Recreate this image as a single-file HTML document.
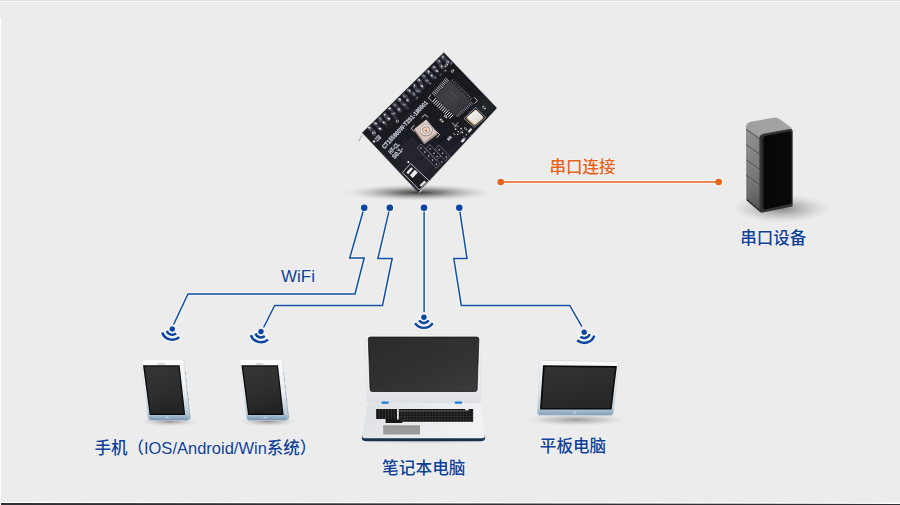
<!DOCTYPE html>
<html lang="zh">
<head>
<meta charset="utf-8">
<title>WiFi 模块连接示意图</title>
<style>
html,body{margin:0;padding:0;background:#ececec;}
body{width:900px;height:505px;overflow:hidden;position:relative;font-family:"Liberation Sans",sans-serif;}
svg{display:block;position:absolute;left:0;top:0;}
.sr{position:absolute;width:1px;height:1px;overflow:hidden;clip:rect(0 0 0 0);white-space:nowrap;font-family:"Liberation Sans",sans-serif;}
</style>
</head>
<body>
<svg width="900" height="505" viewBox="0 0 900 505" role="img" aria-label="WiFi 模块连接示意图">
<defs>
<radialGradient id="pcbShadow" cx="0.5" cy="0.5" r="0.5"><stop offset="0" stop-color="#2e2e2e" stop-opacity="0.92"/><stop offset="0.3" stop-color="#505050" stop-opacity="0.68"/><stop offset="0.65" stop-color="#808080" stop-opacity="0.32"/><stop offset="1" stop-color="#ccc" stop-opacity="0"/></radialGradient>
<linearGradient id="pcbBody" x1="0" y1="0" x2="0.15" y2="1"><stop offset="0" stop-color="#17171c"/><stop offset="0.6" stop-color="#1a1a21"/><stop offset="1" stop-color="#23232d"/></linearGradient>
<linearGradient id="chipBody" x1="0" y1="0" x2="1" y2="1"><stop offset="0" stop-color="#3a3b40"/><stop offset="0.5" stop-color="#3d3e43"/><stop offset="1" stop-color="#303135"/></linearGradient>
<radialGradient id="pad" cx="0.4" cy="0.35" r="0.7"><stop offset="0" stop-color="#f4f6f8"/><stop offset="0.5" stop-color="#b9bfc6"/><stop offset="1" stop-color="#5d636b"/></radialGradient>
<linearGradient id="xtal" x1="0" y1="0" x2="1" y2="1"><stop offset="0" stop-color="#f4f2ee"/><stop offset="0.6" stop-color="#e6e3de"/><stop offset="1" stop-color="#d2cec7"/></linearGradient>
<radialGradient id="ufl" cx="0.5" cy="0.5" r="0.5"><stop offset="0" stop-color="#c79a4a"/><stop offset="0.22" stop-color="#d9b979"/><stop offset="0.3" stop-color="#f2e4da"/><stop offset="0.55" stop-color="#e3cfc6"/><stop offset="0.72" stop-color="#b79c92"/><stop offset="0.85" stop-color="#efe2dc"/><stop offset="1" stop-color="#cdb9b0"/></radialGradient>
<filter id="soft6" x="-5%" y="-5%" width="110%" height="110%"><feGaussianBlur stdDeviation="0.65"/></filter>
<filter id="soft3" x="-5%" y="-5%" width="110%" height="110%"><feGaussianBlur stdDeviation="0.3"/></filter>
<clipPath id="pcbClip"><polygon points="443.8,52.4 496.9,108.0 418.8,191.9 362.4,132.4"/></clipPath>
<radialGradient id="sbShadow" cx="0.5" cy="0.5" r="0.5"><stop offset="0" stop-color="#6a6a6a" stop-opacity="0.8"/><stop offset="0.55" stop-color="#8c8c8c" stop-opacity="0.36"/><stop offset="1" stop-color="#bbb" stop-opacity="0"/></radialGradient>
<linearGradient id="sbSide" x1="0" y1="0" x2="0" y2="1"><stop offset="0" stop-color="#969696"/><stop offset="0.42" stop-color="#848484"/><stop offset="0.72" stop-color="#747474"/><stop offset="0.88" stop-color="#626262"/><stop offset="1" stop-color="#4e4e4e"/></linearGradient>
<linearGradient id="sbSideX" x1="0" y1="0" x2="1" y2="0"><stop offset="0" stop-color="#000" stop-opacity="0.25"/><stop offset="0.1" stop-color="#000" stop-opacity="0"/><stop offset="1" stop-color="#000" stop-opacity="0.06"/></linearGradient>
<linearGradient id="sbTop" x1="0" y1="0" x2="1" y2="0.3"><stop offset="0" stop-color="#9e9e9e"/><stop offset="1" stop-color="#a4a4a4"/></linearGradient>
<linearGradient id="sbFront" x1="0" y1="0" x2="1" y2="0"><stop offset="0" stop-color="#1c1c1c"/><stop offset="0.1" stop-color="#060606"/><stop offset="1" stop-color="#0a0a0a"/></linearGradient>
<linearGradient id="phBody" x1="0" y1="0" x2="0" y2="1"><stop offset="0" stop-color="#fbfbfb"/><stop offset="0.55" stop-color="#e9eef2"/><stop offset="0.89" stop-color="#b4c8d7"/><stop offset="0.93" stop-color="#9db6c9"/><stop offset="1" stop-color="#7694ae"/></linearGradient>
<linearGradient id="phSide" x1="0" y1="0" x2="0" y2="1"><stop offset="0" stop-color="#dbe3ea"/><stop offset="0.55" stop-color="#c0cfdb"/><stop offset="1" stop-color="#84a0b8"/></linearGradient>
<linearGradient id="phScr" x1="0" y1="0" x2="0.25" y2="1"><stop offset="0" stop-color="#353535"/><stop offset="0.6" stop-color="#2e2e2e"/><stop offset="1" stop-color="#242424"/></linearGradient>
<radialGradient id="phShadow" cx="0.5" cy="0.5" r="0.5"><stop offset="0" stop-color="#807b76" stop-opacity="0.8"/><stop offset="0.6" stop-color="#a5a5a5" stop-opacity="0.32"/><stop offset="1" stop-color="#ccc" stop-opacity="0"/></radialGradient>
<linearGradient id="lpLid" x1="0" y1="0" x2="0" y2="1"><stop offset="0" stop-color="#f6f7f8"/><stop offset="0.8" stop-color="#e7e9ed"/><stop offset="1" stop-color="#dcdfe5"/></linearGradient>
<linearGradient id="lpScr" x1="0" y1="0" x2="1" y2="1"><stop offset="0" stop-color="#2a2b2b"/><stop offset="0.6" stop-color="#313232"/><stop offset="1" stop-color="#3b3c3c"/></linearGradient>
<linearGradient id="lpBase" x1="0" y1="0" x2="1" y2="0.25"><stop offset="0" stop-color="#dcdfe3"/><stop offset="0.5" stop-color="#e9eaed"/><stop offset="1" stop-color="#f1f2f4"/></linearGradient>
<radialGradient id="lpShadow" cx="0.5" cy="0.5" r="0.5"><stop offset="0" stop-color="#999" stop-opacity="0.45"/><stop offset="1" stop-color="#ccc" stop-opacity="0"/></radialGradient>
<linearGradient id="tbBody" x1="0" y1="0" x2="0" y2="1"><stop offset="0" stop-color="#fafafa"/><stop offset="0.5" stop-color="#e3e9ee"/><stop offset="0.87" stop-color="#b4c8d7"/><stop offset="1" stop-color="#7f9db6"/></linearGradient>
<linearGradient id="tbScr" x1="0" y1="0" x2="0.4" y2="1"><stop offset="0" stop-color="#343434"/><stop offset="1" stop-color="#272727"/></linearGradient>
<radialGradient id="tbShadow" cx="0.5" cy="0.5" r="0.5"><stop offset="0" stop-color="#808080" stop-opacity="0.75"/><stop offset="0.6" stop-color="#a0a0a0" stop-opacity="0.32"/><stop offset="1" stop-color="#ccc" stop-opacity="0"/></radialGradient>
</defs>
<rect x="0" y="0" width="900" height="505" fill="#ececec"/>
<rect x="0" y="0" width="900" height="1" fill="#dfdfdf"/>
<rect x="0" y="1" width="900" height="1" fill="#f9f9f9"/>
<rect x="0" y="18" width="1" height="487" fill="#ffffff"/>
<polygon points="0,501.7 900,502.7 900,504 0,503" fill="#ffffff"/>
<polygon points="1,503 900,504 900,505 1,505" fill="#303135"/>
<path d="M364.2 207.7 L349.7 258 L364.2 258 L355 294 L188 294 L173.6 324.5" fill="none" stroke="#f8f8f8" stroke-opacity="0.75" stroke-width="3.6" stroke-linejoin="round"/>
<path d="M389.8 207.7 L377.9 258.5 L392.2 258.5 L382.5 305.5 L274.7 305.5 L263.6 327.5" fill="none" stroke="#f8f8f8" stroke-opacity="0.75" stroke-width="3.6" stroke-linejoin="round"/>
<path d="M424.1 207.7 L424.1 312" fill="none" stroke="#f8f8f8" stroke-opacity="0.75" stroke-width="3.6" stroke-linejoin="round"/>
<path d="M459.3 207.7 L467 258.5 L453.8 258.5 L461.3 305.4 L569.7 305.4 L581.9 326.6" fill="none" stroke="#f8f8f8" stroke-opacity="0.75" stroke-width="3.6" stroke-linejoin="round"/>
<path d="M364.2 207.7 L349.7 258 L364.2 258 L355 294 L188 294 L173.6 324.5" fill="none" stroke="#104fa3" stroke-width="1.5" stroke-linejoin="miter"/>
<path d="M389.8 207.7 L377.9 258.5 L392.2 258.5 L382.5 305.5 L274.7 305.5 L263.6 327.5" fill="none" stroke="#104fa3" stroke-width="1.5" stroke-linejoin="miter"/>
<path d="M424.1 207.7 L424.1 312" fill="none" stroke="#104fa3" stroke-width="1.5" stroke-linejoin="miter"/>
<path d="M459.3 207.7 L467 258.5 L453.8 258.5 L461.3 305.4 L569.7 305.4 L581.9 326.6" fill="none" stroke="#104fa3" stroke-width="1.5" stroke-linejoin="miter"/>
<circle cx="364.2" cy="207.7" r="3.3" fill="#0b45a0" stroke="#f8f8f8" stroke-opacity="0.75" stroke-width="2.2" paint-order="stroke"/>
<circle cx="389.8" cy="207.7" r="3.3" fill="#0b45a0" stroke="#f8f8f8" stroke-opacity="0.75" stroke-width="2.2" paint-order="stroke"/>
<circle cx="424.0" cy="207.7" r="3.3" fill="#0b45a0" stroke="#f8f8f8" stroke-opacity="0.75" stroke-width="2.2" paint-order="stroke"/>
<circle cx="459.3" cy="207.7" r="3.3" fill="#0b45a0" stroke="#f8f8f8" stroke-opacity="0.75" stroke-width="2.2" paint-order="stroke"/>
<g transform="translate(172.3 329.0) rotate(15)" fill="none" stroke="#f8f8f8" stroke-opacity="0.75" stroke-width="4.4" stroke-linecap="round"><circle r="2.7" fill="#f8f8f8" stroke-width="2"/><path d="M-4.81 3.24 A5.8 5.8 0 0 0 4.81 3.24"/><path d="M-8.87 5.98 A10.7 10.7 0 0 0 8.87 5.98"/></g><g transform="translate(172.3 329.0) rotate(15)" fill="none" stroke="#0b45a0" stroke-width="2.45"><circle r="2.7" fill="#0b45a0" stroke="none"/><path d="M-4.81 3.24 A5.8 5.8 0 0 0 4.81 3.24"/><path d="M-8.87 5.98 A10.7 10.7 0 0 0 8.87 5.98"/></g>
<g transform="translate(261.0 331.6) rotate(15)" fill="none" stroke="#f8f8f8" stroke-opacity="0.75" stroke-width="4.4" stroke-linecap="round"><circle r="2.7" fill="#f8f8f8" stroke-width="2"/><path d="M-4.81 3.24 A5.8 5.8 0 0 0 4.81 3.24"/><path d="M-8.87 5.98 A10.7 10.7 0 0 0 8.87 5.98"/></g><g transform="translate(261.0 331.6) rotate(15)" fill="none" stroke="#0b45a0" stroke-width="2.45"><circle r="2.7" fill="#0b45a0" stroke="none"/><path d="M-4.81 3.24 A5.8 5.8 0 0 0 4.81 3.24"/><path d="M-8.87 5.98 A10.7 10.7 0 0 0 8.87 5.98"/></g>
<g transform="translate(423.9 317.2) rotate(0)" fill="none" stroke="#f8f8f8" stroke-opacity="0.75" stroke-width="4.4" stroke-linecap="round"><circle r="2.7" fill="#f8f8f8" stroke-width="2"/><path d="M-4.81 3.24 A5.8 5.8 0 0 0 4.81 3.24"/><path d="M-8.87 5.98 A10.7 10.7 0 0 0 8.87 5.98"/></g><g transform="translate(423.9 317.2) rotate(0)" fill="none" stroke="#0b45a0" stroke-width="2.45"><circle r="2.7" fill="#0b45a0" stroke="none"/><path d="M-4.81 3.24 A5.8 5.8 0 0 0 4.81 3.24"/><path d="M-8.87 5.98 A10.7 10.7 0 0 0 8.87 5.98"/></g>
<g transform="translate(584.2 332.2) rotate(-15)" fill="none" stroke="#f8f8f8" stroke-opacity="0.75" stroke-width="4.4" stroke-linecap="round"><circle r="2.7" fill="#f8f8f8" stroke-width="2"/><path d="M-4.81 3.24 A5.8 5.8 0 0 0 4.81 3.24"/><path d="M-8.87 5.98 A10.7 10.7 0 0 0 8.87 5.98"/></g><g transform="translate(584.2 332.2) rotate(-15)" fill="none" stroke="#0b45a0" stroke-width="2.45"><circle r="2.7" fill="#0b45a0" stroke="none"/><path d="M-4.81 3.24 A5.8 5.8 0 0 0 4.81 3.24"/><path d="M-8.87 5.98 A10.7 10.7 0 0 0 8.87 5.98"/></g>
<path d="M500.7 182 L718.7 182" stroke="#f8f8f8" stroke-opacity="0.75" stroke-width="3.8" stroke-linecap="round" fill="none"/>
<circle cx="500.7" cy="182" r="4.4" fill="#f8f8f8" fill-opacity="0.75"/><circle cx="718.7" cy="182" r="4.4" fill="#f8f8f8" fill-opacity="0.75"/>
<path d="M500.7 182 L718.7 182" stroke="#e8631c" stroke-width="1.7" fill="none"/>
<circle cx="500.7" cy="182" r="3.3" fill="#e8631c"/><circle cx="718.7" cy="182" r="3.3" fill="#e8631c"/>
<ellipse cx="418.5" cy="192.6" rx="76" ry="8.6" fill="url(#pcbShadow)"/>
<path d="M363.6 134.6 L360.2 140.6 L358.6 139.6 L361.6 134.2 Z" fill="#c9c9cb"/>
<path d="M360.2 140.6 L358.6 139.6 L358.9 141.6 Z" fill="#9a9a9c"/>
<polygon points="444.1,51.8 497.9,108.1 419.2,193.0 418.2,192.1 496.9,108.0 443.8,52.4" fill="#d9d9dc"/>
<polygon points="444.0,51.4 361.4,132.2 362.4,132.8 443.8,52.4" fill="#e3e3e6"/>
<polygon points="362.1,132.7 418.6,193.1 419.3,192.1 362.7,132.1" fill="#34353c"/>
<polygon points="443.8,52.4 496.9,108.0 418.8,191.9 362.4,132.4" fill="url(#pcbBody)"/>
<g clip-path="url(#pcbClip)"><g filter="url(#soft3)"><polygon points="395.0,150.0 412.0,137.0 436.0,160.0 418.8,180.0" fill="#262731" opacity="0.8"/><polygon points="466.0,112.0 485.0,98.0 495.0,108.0 476.0,128.0" fill="#20212a" opacity="0.9"/><g opacity="0.9"><path d="M400 112 L418 96" stroke="#2c2d37" stroke-width="0.9" fill="none"/><path d="M404 118 L414 109" stroke="#2c2d37" stroke-width="0.9" fill="none"/><path d="M398 132 L410 144" stroke="#2c2d37" stroke-width="0.9" fill="none"/><path d="M440 150 L456 134" stroke="#2c2d37" stroke-width="0.9" fill="none"/><path d="M446 156 L470 132" stroke="#2c2d37" stroke-width="0.9" fill="none"/><path d="M478 96 L488 106" stroke="#2c2d37" stroke-width="0.9" fill="none"/><path d="M482 92 L491 101" stroke="#2c2d37" stroke-width="0.9" fill="none"/><path d="M408 100 L430 80" stroke="#2c2d37" stroke-width="0.9" fill="none"/><path d="M386 128 L396 119" stroke="#2c2d37" stroke-width="0.9" fill="none"/><circle cx="480" cy="100" r="0.8" fill="#34353f"/><circle cx="484" cy="104" r="0.8" fill="#34353f"/><circle cx="488" cy="108" r="0.8" fill="#34353f"/><circle cx="483" cy="96" r="0.8" fill="#34353f"/><circle cx="487" cy="100" r="0.8" fill="#34353f"/><circle cx="491" cy="104" r="0.8" fill="#34353f"/><circle cx="478" cy="106" r="0.8" fill="#34353f"/><circle cx="482" cy="110" r="0.8" fill="#34353f"/><circle cx="486" cy="114" r="0.8" fill="#34353f"/><circle cx="476" cy="112" r="0.8" fill="#34353f"/><circle cx="480" cy="116" r="0.8" fill="#34353f"/><circle cx="402" cy="126" r="0.8" fill="#34353f"/><circle cx="406" cy="130" r="0.8" fill="#34353f"/><circle cx="410" cy="134" r="0.8" fill="#34353f"/><circle cx="399" cy="138" r="0.8" fill="#34353f"/><circle cx="403" cy="142" r="0.8" fill="#34353f"/><circle cx="414" cy="150" r="0.8" fill="#34353f"/><circle cx="410" cy="154" r="0.8" fill="#34353f"/><circle cx="437" cy="146" r="0.8" fill="#34353f"/><circle cx="440" cy="158" r="0.8" fill="#34353f"/><circle cx="447" cy="166" r="0.8" fill="#34353f"/><circle cx="428" cy="170" r="0.8" fill="#34353f"/><circle cx="434" cy="176" r="0.8" fill="#34353f"/></g><g filter="url(#soft6)"><ellipse cx="370.1" cy="128.5" rx="2.8" ry="2.2" transform="rotate(55 370.1 128.5)" fill="#454851" opacity="0.95"/><ellipse cx="369.8" cy="127.8" rx="1.8" ry="1.0" transform="rotate(18 369.8 127.8)" fill="#7c818b" opacity="0.9"/><ellipse cx="369.0" cy="127.7" rx="1.0" ry="0.7" transform="rotate(17 369.0 127.7)" fill="#eef0f3"/><ellipse cx="373.7" cy="133.1" rx="3.1" ry="2.0" transform="rotate(72 373.7 133.1)" fill="#454851" opacity="0.95"/><ellipse cx="374.6" cy="132.4" rx="2.1" ry="1.0" transform="rotate(56 374.6 132.4)" fill="#7c818b" opacity="0.9"/><ellipse cx="372.8" cy="132.6" rx="1.3" ry="0.6" transform="rotate(81 372.8 132.6)" fill="#eef0f3"/><circle cx="372.5" cy="130.8" r="1.4" fill="#383b44" opacity="0.9"/><ellipse cx="375.3" cy="123.6" rx="2.9" ry="2.3" transform="rotate(19 375.3 123.6)" fill="#454851" opacity="0.95"/><ellipse cx="375.1" cy="123.2" rx="1.8" ry="1.0" transform="rotate(15 375.1 123.2)" fill="#7c818b" opacity="0.9"/><ellipse cx="376.0" cy="123.6" rx="0.9" ry="0.7" transform="rotate(22 376.0 123.6)" fill="#eef0f3"/><ellipse cx="379.6" cy="128.5" rx="3.5" ry="1.8" transform="rotate(33 379.6 128.5)" fill="#454851" opacity="0.95"/><ellipse cx="379.4" cy="128.8" rx="1.4" ry="1.0" transform="rotate(32 379.4 128.8)" fill="#7c818b" opacity="0.9"/><ellipse cx="380.0" cy="128.6" rx="1.1" ry="0.8" transform="rotate(14 380.0 128.6)" fill="#eef0f3"/><circle cx="377.5" cy="126.4" r="1.4" fill="#383b44" opacity="0.9"/><ellipse cx="380.2" cy="119.5" rx="3.6" ry="2.1" transform="rotate(66 380.2 119.5)" fill="#454851" opacity="0.95"/><ellipse cx="380.5" cy="118.8" rx="1.9" ry="1.0" transform="rotate(78 380.5 118.8)" fill="#7c818b" opacity="0.9"/><ellipse cx="384.4" cy="123.0" rx="3.2" ry="1.7" transform="rotate(39 384.4 123.0)" fill="#454851" opacity="0.95"/><ellipse cx="384.3" cy="122.5" rx="1.4" ry="1.0" transform="rotate(3 384.3 122.5)" fill="#7c818b" opacity="0.9"/><ellipse cx="383.5" cy="122.4" rx="1.0" ry="0.8" transform="rotate(-3 383.5 122.4)" fill="#eef0f3"/><circle cx="381.8" cy="121.6" r="1.4" fill="#383b44" opacity="0.9"/><ellipse cx="385.5" cy="115.3" rx="3.0" ry="2.1" transform="rotate(67 385.5 115.3)" fill="#454851" opacity="0.95"/><ellipse cx="385.2" cy="115.7" rx="2.2" ry="1.0" transform="rotate(39 385.2 115.7)" fill="#7c818b" opacity="0.9"/><ellipse cx="384.9" cy="114.6" rx="1.0" ry="0.7" transform="rotate(44 384.9 114.6)" fill="#eef0f3"/><ellipse cx="387.9" cy="118.5" rx="3.1" ry="2.4" transform="rotate(38 387.9 118.5)" fill="#454851" opacity="0.95"/><ellipse cx="388.3" cy="118.4" rx="1.9" ry="1.0" transform="rotate(52 388.3 118.4)" fill="#7c818b" opacity="0.9"/><ellipse cx="388.9" cy="118.6" rx="1.3" ry="0.7" transform="rotate(27 388.9 118.6)" fill="#eef0f3"/><circle cx="386.6" cy="115.9" r="1.4" fill="#383b44" opacity="0.9"/><ellipse cx="390.0" cy="109.3" rx="2.9" ry="1.9" transform="rotate(20 390.0 109.3)" fill="#454851" opacity="0.95"/><ellipse cx="389.7" cy="108.6" rx="1.3" ry="1.0" transform="rotate(-8 389.7 108.6)" fill="#7c818b" opacity="0.9"/><ellipse cx="389.7" cy="108.3" rx="1.3" ry="0.7" transform="rotate(-16 389.7 108.3)" fill="#eef0f3"/><ellipse cx="393.2" cy="113.6" rx="2.6" ry="2.3" transform="rotate(37 393.2 113.6)" fill="#454851" opacity="0.95"/><ellipse cx="394.1" cy="113.4" rx="1.7" ry="1.0" transform="rotate(4 394.1 113.4)" fill="#7c818b" opacity="0.9"/><ellipse cx="392.8" cy="113.0" rx="1.3" ry="0.5" transform="rotate(-10 392.8 113.0)" fill="#eef0f3"/><circle cx="392.6" cy="112.0" r="1.4" fill="#383b44" opacity="0.9"/><ellipse cx="395.7" cy="117.5" rx="2.0" ry="1.3" transform="rotate(176 395.7 117.5)" fill="#41444d" opacity="0.85"/><ellipse cx="394.9" cy="104.8" rx="2.9" ry="2.3" transform="rotate(37 394.9 104.8)" fill="#454851" opacity="0.95"/><ellipse cx="395.0" cy="105.1" rx="1.6" ry="1.0" transform="rotate(15 395.0 105.1)" fill="#7c818b" opacity="0.9"/><ellipse cx="399.2" cy="109.6" rx="3.3" ry="2.2" transform="rotate(64 399.2 109.6)" fill="#454851" opacity="0.95"/><ellipse cx="398.6" cy="109.6" rx="1.6" ry="1.0" transform="rotate(26 398.6 109.6)" fill="#7c818b" opacity="0.9"/><ellipse cx="398.7" cy="109.0" rx="1.2" ry="0.8" transform="rotate(59 398.7 109.0)" fill="#eef0f3"/><circle cx="397.4" cy="108.1" r="1.4" fill="#383b44" opacity="0.9"/><ellipse cx="399.3" cy="100.0" rx="2.9" ry="1.9" transform="rotate(29 399.3 100.0)" fill="#454851" opacity="0.95"/><ellipse cx="399.5" cy="100.5" rx="2.1" ry="1.0" transform="rotate(27 399.5 100.5)" fill="#7c818b" opacity="0.9"/><ellipse cx="400.0" cy="99.1" rx="1.2" ry="0.8" transform="rotate(57 400.0 99.1)" fill="#eef0f3"/><ellipse cx="403.7" cy="104.3" rx="3.3" ry="1.9" transform="rotate(26 403.7 104.3)" fill="#454851" opacity="0.95"/><ellipse cx="404.3" cy="104.8" rx="1.7" ry="1.0" transform="rotate(18 404.3 104.8)" fill="#7c818b" opacity="0.9"/><circle cx="401.8" cy="101.7" r="1.4" fill="#383b44" opacity="0.9"/><ellipse cx="407.2" cy="108.0" rx="2.0" ry="1.3" transform="rotate(26 407.2 108.0)" fill="#41444d" opacity="0.85"/><ellipse cx="405.1" cy="95.9" rx="3.2" ry="1.9" transform="rotate(37 405.1 95.9)" fill="#454851" opacity="0.95"/><ellipse cx="404.1" cy="96.5" rx="1.9" ry="1.0" transform="rotate(39 404.1 96.5)" fill="#7c818b" opacity="0.9"/><ellipse cx="408.0" cy="100.1" rx="2.7" ry="1.9" transform="rotate(65 408.0 100.1)" fill="#454851" opacity="0.95"/><ellipse cx="407.6" cy="99.7" rx="1.8" ry="1.0" transform="rotate(46 407.6 99.7)" fill="#7c818b" opacity="0.9"/><ellipse cx="407.1" cy="100.4" rx="0.9" ry="0.6" transform="rotate(73 407.1 100.4)" fill="#eef0f3"/><circle cx="407.0" cy="97.4" r="1.4" fill="#383b44" opacity="0.9"/><ellipse cx="409.2" cy="90.9" rx="2.7" ry="2.1" transform="rotate(47 409.2 90.9)" fill="#454851" opacity="0.95"/><ellipse cx="408.6" cy="90.2" rx="2.0" ry="1.0" transform="rotate(21 408.6 90.2)" fill="#7c818b" opacity="0.9"/><ellipse cx="409.7" cy="90.7" rx="0.9" ry="0.7" transform="rotate(52 409.7 90.7)" fill="#eef0f3"/><ellipse cx="413.4" cy="94.1" rx="2.7" ry="1.9" transform="rotate(49 413.4 94.1)" fill="#454851" opacity="0.95"/><ellipse cx="414.0" cy="94.0" rx="1.8" ry="1.0" transform="rotate(70 414.0 94.0)" fill="#7c818b" opacity="0.9"/><circle cx="411.0" cy="93.0" r="1.4" fill="#383b44" opacity="0.9"/><ellipse cx="417.0" cy="98.1" rx="2.0" ry="1.3" transform="rotate(96 417.0 98.1)" fill="#41444d" opacity="0.85"/><circle cx="417.3" cy="97.8" r="0.55" fill="#b9bdc4"/><ellipse cx="414.8" cy="86.4" rx="3.6" ry="2.0" transform="rotate(68 414.8 86.4)" fill="#454851" opacity="0.95"/><ellipse cx="414.9" cy="87.0" rx="2.1" ry="1.0" transform="rotate(39 414.9 87.0)" fill="#7c818b" opacity="0.9"/><ellipse cx="414.6" cy="85.5" rx="0.9" ry="0.5" transform="rotate(85 414.6 85.5)" fill="#eef0f3"/><ellipse cx="418.3" cy="90.6" rx="3.2" ry="2.2" transform="rotate(25 418.3 90.6)" fill="#454851" opacity="0.95"/><ellipse cx="417.6" cy="91.0" rx="2.2" ry="1.0" transform="rotate(2 417.6 91.0)" fill="#7c818b" opacity="0.9"/><circle cx="415.7" cy="88.0" r="1.4" fill="#383b44" opacity="0.9"/><ellipse cx="419.4" cy="80.8" rx="3.2" ry="2.0" transform="rotate(41 419.4 80.8)" fill="#454851" opacity="0.95"/><ellipse cx="418.8" cy="80.5" rx="1.9" ry="1.0" transform="rotate(3 418.8 80.5)" fill="#7c818b" opacity="0.9"/><ellipse cx="419.3" cy="79.8" rx="0.9" ry="0.7" transform="rotate(43 419.3 79.8)" fill="#eef0f3"/><ellipse cx="422.0" cy="86.0" rx="3.5" ry="1.8" transform="rotate(63 422.0 86.0)" fill="#454851" opacity="0.95"/><ellipse cx="421.5" cy="85.2" rx="2.0" ry="1.0" transform="rotate(44 421.5 85.2)" fill="#7c818b" opacity="0.9"/><ellipse cx="421.8" cy="86.3" rx="1.3" ry="0.6" transform="rotate(28 421.8 86.3)" fill="#eef0f3"/><circle cx="421.6" cy="83.4" r="1.4" fill="#383b44" opacity="0.9"/><ellipse cx="423.1" cy="75.9" rx="3.1" ry="1.9" transform="rotate(57 423.1 75.9)" fill="#454851" opacity="0.95"/><ellipse cx="424.0" cy="76.0" rx="2.0" ry="1.0" transform="rotate(23 424.0 76.0)" fill="#7c818b" opacity="0.9"/><ellipse cx="426.9" cy="81.0" rx="2.8" ry="2.1" transform="rotate(43 426.9 81.0)" fill="#454851" opacity="0.95"/><ellipse cx="427.7" cy="80.6" rx="1.4" ry="1.0" transform="rotate(45 427.7 80.6)" fill="#7c818b" opacity="0.9"/><ellipse cx="425.9" cy="80.2" rx="0.7" ry="0.6" transform="rotate(24 425.9 80.2)" fill="#eef0f3"/><circle cx="425.3" cy="79.0" r="1.4" fill="#383b44" opacity="0.9"/><ellipse cx="430.0" cy="83.5" rx="2.0" ry="1.3" transform="rotate(3 430.0 83.5)" fill="#41444d" opacity="0.85"/><circle cx="430.3" cy="83.2" r="0.55" fill="#b9bdc4"/><ellipse cx="427.8" cy="72.2" rx="2.9" ry="2.1" transform="rotate(49 427.8 72.2)" fill="#454851" opacity="0.95"/><ellipse cx="428.7" cy="71.5" rx="2.0" ry="1.0" transform="rotate(43 428.7 71.5)" fill="#7c818b" opacity="0.9"/><ellipse cx="428.7" cy="71.7" rx="1.1" ry="0.7" transform="rotate(97 428.7 71.7)" fill="#eef0f3"/><ellipse cx="432.2" cy="76.2" rx="3.1" ry="2.0" transform="rotate(58 432.2 76.2)" fill="#454851" opacity="0.95"/><ellipse cx="431.9" cy="75.5" rx="1.4" ry="1.0" transform="rotate(24 431.9 75.5)" fill="#7c818b" opacity="0.9"/><ellipse cx="431.6" cy="75.4" rx="0.8" ry="0.8" transform="rotate(95 431.6 75.4)" fill="#eef0f3"/><circle cx="430.9" cy="73.3" r="1.4" fill="#383b44" opacity="0.9"/><ellipse cx="435.3" cy="77.7" rx="2.0" ry="1.3" transform="rotate(80 435.3 77.7)" fill="#41444d" opacity="0.85"/><circle cx="435.6" cy="77.4" r="0.55" fill="#b9bdc4"/><ellipse cx="434.2" cy="67.8" rx="2.9" ry="2.5" transform="rotate(48 434.2 67.8)" fill="#454851" opacity="0.95"/><ellipse cx="433.8" cy="67.5" rx="1.3" ry="1.0" transform="rotate(39 433.8 67.5)" fill="#7c818b" opacity="0.9"/><ellipse cx="434.2" cy="67.1" rx="1.1" ry="0.5" transform="rotate(25 434.2 67.1)" fill="#eef0f3"/><ellipse cx="436.6" cy="70.7" rx="2.5" ry="1.9" transform="rotate(18 436.6 70.7)" fill="#454851" opacity="0.95"/><ellipse cx="436.1" cy="70.7" rx="1.8" ry="1.0" transform="rotate(38 436.1 70.7)" fill="#7c818b" opacity="0.9"/><ellipse cx="437.1" cy="71.0" rx="1.0" ry="0.6" transform="rotate(66 437.1 71.0)" fill="#eef0f3"/><circle cx="434.7" cy="69.4" r="1.4" fill="#383b44" opacity="0.9"/><ellipse cx="440.7" cy="74.6" rx="2.0" ry="1.3" transform="rotate(113 440.7 74.6)" fill="#41444d" opacity="0.85"/><ellipse cx="438.8" cy="61.7" rx="3.2" ry="2.4" transform="rotate(47 438.8 61.7)" fill="#454851" opacity="0.95"/><ellipse cx="439.4" cy="62.0" rx="1.8" ry="1.0" transform="rotate(78 439.4 62.0)" fill="#7c818b" opacity="0.9"/><ellipse cx="439.3" cy="61.0" rx="0.7" ry="0.5" transform="rotate(33 439.3 61.0)" fill="#eef0f3"/><ellipse cx="441.5" cy="66.6" rx="3.1" ry="2.1" transform="rotate(49 441.5 66.6)" fill="#454851" opacity="0.95"/><ellipse cx="441.9" cy="66.5" rx="1.3" ry="1.0" transform="rotate(73 441.9 66.5)" fill="#7c818b" opacity="0.9"/><ellipse cx="441.5" cy="66.4" rx="1.2" ry="0.5" transform="rotate(73 441.5 66.4)" fill="#eef0f3"/><circle cx="439.7" cy="63.3" r="1.4" fill="#383b44" opacity="0.9"/><ellipse cx="445.2" cy="70.8" rx="2.0" ry="1.3" transform="rotate(176 445.2 70.8)" fill="#41444d" opacity="0.85"/><circle cx="445.5" cy="70.5" r="0.55" fill="#b9bdc4"/><ellipse cx="443.0" cy="57.4" rx="3.5" ry="2.2" transform="rotate(57 443.0 57.4)" fill="#454851" opacity="0.95"/><ellipse cx="443.3" cy="56.8" rx="1.4" ry="1.0" transform="rotate(37 443.3 56.8)" fill="#7c818b" opacity="0.9"/><ellipse cx="442.5" cy="57.2" rx="0.7" ry="0.5" transform="rotate(33 442.5 57.2)" fill="#eef0f3"/><ellipse cx="447.3" cy="61.6" rx="2.8" ry="2.1" transform="rotate(56 447.3 61.6)" fill="#454851" opacity="0.95"/><ellipse cx="447.2" cy="61.5" rx="1.4" ry="1.0" transform="rotate(88 447.2 61.5)" fill="#7c818b" opacity="0.9"/><ellipse cx="448.4" cy="62.0" rx="0.7" ry="0.6" transform="rotate(88 448.4 62.0)" fill="#eef0f3"/><circle cx="446.0" cy="59.3" r="1.4" fill="#383b44" opacity="0.9"/><ellipse cx="451.1" cy="63.3" rx="2.0" ry="1.3" transform="rotate(105 451.1 63.3)" fill="#41444d" opacity="0.85"/><circle cx="451.4" cy="63.0" r="0.55" fill="#b9bdc4"/></g><rect x="-1.1" y="-1.1" width="2.2" height="2.2" transform="translate(374.0 141.4) rotate(-40)" fill="#c9cedb"/><text transform="translate(376.8 141.8) rotate(-40)" x="0.2" y="0" font-family="&quot;Liberation Sans&quot;, sans-serif" font-weight="bold" font-size="6.2" textLength="5.9" lengthAdjust="spacingAndGlyphs" fill="#cdd2de" stroke="#cdd2de" stroke-width="0.28" opacity="0.95">11B</text><text transform="translate(384.3 149.5) rotate(-46.6)" x="0.2" y="0" font-family="&quot;Liberation Sans&quot;, sans-serif" font-weight="bold" font-size="6.2" textLength="63.7" lengthAdjust="spacingAndGlyphs" fill="#cdd2de" stroke="#cdd2de" stroke-width="0.28" opacity="0.95">CT155860W-T2S1-180601</text><text transform="translate(390.8 154.6) rotate(-47)" x="0.3" y="0" font-family="&quot;Liberation Sans&quot;, sans-serif" font-weight="bold" font-size="6.4" textLength="13.1" lengthAdjust="spacingAndGlyphs" fill="#cdd2de" stroke="#cdd2de" stroke-width="0.28" opacity="0.95">HF-CL</text><text transform="translate(394.6 159.3) rotate(-47)" x="0.2" y="0" font-family="&quot;Liberation Sans&quot;, sans-serif" font-weight="bold" font-size="6.4" textLength="13.1" lengthAdjust="spacingAndGlyphs" fill="#cdd2de" stroke="#cdd2de" stroke-width="0.28" opacity="0.95">S0.1-</text><circle cx="397.3" cy="121.2" r="1.2" fill="none" stroke="#dfe2e6" stroke-width="0.7"/><polyline points="431.0,94.6 428.4,97.8 431.6,101.0" fill="none" stroke="#e4e6ea" stroke-width="0.8"/><polyline points="452.0,122.8 455.2,125.6 458.2,122.4" fill="none" stroke="#e4e6ea" stroke-width="0.8"/><polyline points="474.6,97.4 477.4,100.6 474.4,103.8" fill="none" stroke="#e4e6ea" stroke-width="0.8"/><path d="M449.1 81.4 L445.4 78.0" stroke="#d6d8db" stroke-width="0.9" opacity="1"/><path d="M447.9 82.7 L444.2 79.3" stroke="#d6d8db" stroke-width="0.9" opacity="1"/><path d="M446.7 84.1 L443.0 80.7" stroke="#d6d8db" stroke-width="0.9" opacity="1"/><path d="M445.4 85.4 L441.8 82.0" stroke="#d6d8db" stroke-width="0.9" opacity="1"/><path d="M444.2 86.7 L440.5 83.3" stroke="#d6d8db" stroke-width="0.9" opacity="1"/><path d="M443.0 88.0 L439.3 84.7" stroke="#d6d8db" stroke-width="0.9" opacity="1"/><path d="M441.8 89.4 L438.1 86.0" stroke="#d6d8db" stroke-width="0.9" opacity="1"/><path d="M440.6 90.7 L436.9 87.3" stroke="#d6d8db" stroke-width="0.9" opacity="1"/><path d="M439.4 92.0 L435.7 88.6" stroke="#d6d8db" stroke-width="0.9" opacity="1"/><path d="M438.1 93.3 L434.5 90.0" stroke="#d6d8db" stroke-width="0.9" opacity="1"/><path d="M436.9 94.7 L433.2 91.3" stroke="#d6d8db" stroke-width="0.9" opacity="1"/><path d="M435.7 96.0 L432.0 92.6" stroke="#d6d8db" stroke-width="0.9" opacity="1"/><path d="M436.0 98.1 L432.1 102.4" stroke="#f0f1f3" stroke-width="1.0" opacity="1"/><path d="M437.6 99.6 L433.7 103.9" stroke="#f0f1f3" stroke-width="1.0" opacity="1"/><path d="M439.2 101.0 L435.3 105.3" stroke="#f0f1f3" stroke-width="1.0" opacity="1"/><path d="M440.8 102.5 L436.9 106.8" stroke="#f0f1f3" stroke-width="1.0" opacity="1"/><path d="M442.4 104.0 L438.5 108.3" stroke="#f0f1f3" stroke-width="1.0" opacity="1"/><path d="M444.0 105.5 L440.1 109.7" stroke="#f0f1f3" stroke-width="1.0" opacity="1"/><path d="M445.6 106.9 L441.7 111.2" stroke="#f0f1f3" stroke-width="1.0" opacity="1"/><path d="M447.2 108.4 L443.3 112.7" stroke="#f0f1f3" stroke-width="1.0" opacity="1"/><path d="M448.8 109.9 L444.9 114.2" stroke="#f0f1f3" stroke-width="1.0" opacity="1"/><path d="M450.4 111.4 L446.5 115.6" stroke="#f0f1f3" stroke-width="1.0" opacity="1"/><path d="M452.0 112.8 L448.1 117.1" stroke="#f0f1f3" stroke-width="1.0" opacity="1"/><path d="M453.6 114.3 L449.7 118.6" stroke="#f0f1f3" stroke-width="1.0" opacity="1"/><path d="M451.3 81.6 L453.3 79.4" stroke="#a9acb2" stroke-width="0.8" opacity="0.85"/><path d="M453.0 83.3 L455.0 81.1" stroke="#a9acb2" stroke-width="0.8" opacity="0.85"/><path d="M454.7 84.9 L456.7 82.7" stroke="#a9acb2" stroke-width="0.8" opacity="0.85"/><path d="M456.4 86.6 L458.4 84.4" stroke="#a9acb2" stroke-width="0.8" opacity="0.85"/><path d="M458.1 88.2 L460.2 86.0" stroke="#a9acb2" stroke-width="0.8" opacity="0.85"/><path d="M459.8 89.9 L461.9 87.7" stroke="#a9acb2" stroke-width="0.8" opacity="0.85"/><path d="M461.6 91.5 L463.6 89.3" stroke="#a9acb2" stroke-width="0.8" opacity="0.85"/><path d="M463.3 93.2 L465.3 91.0" stroke="#a9acb2" stroke-width="0.8" opacity="0.85"/><path d="M465.0 94.8 L467.0 92.6" stroke="#a9acb2" stroke-width="0.8" opacity="0.85"/><path d="M466.7 96.5 L468.7 94.3" stroke="#a9acb2" stroke-width="0.8" opacity="0.85"/><path d="M468.4 98.1 L470.4 95.9" stroke="#a9acb2" stroke-width="0.8" opacity="0.85"/><path d="M470.1 99.8 L472.1 97.6" stroke="#a9acb2" stroke-width="0.8" opacity="0.85"/><path d="M470.4 101.9 L472.9 104.2" stroke="#bfc2c7" stroke-width="0.85" opacity="0.9"/><path d="M469.1 103.0 L471.5 105.4" stroke="#bfc2c7" stroke-width="0.85" opacity="0.9"/><path d="M467.7 104.2 L470.2 106.5" stroke="#bfc2c7" stroke-width="0.85" opacity="0.9"/><path d="M466.4 105.3 L468.9 107.7" stroke="#bfc2c7" stroke-width="0.85" opacity="0.9"/><path d="M465.1 106.5 L467.5 108.8" stroke="#bfc2c7" stroke-width="0.85" opacity="0.9"/><path d="M463.8 107.6 L466.2 110.0" stroke="#bfc2c7" stroke-width="0.85" opacity="0.9"/><path d="M462.4 108.8 L464.9 111.1" stroke="#bfc2c7" stroke-width="0.85" opacity="0.9"/><path d="M461.1 109.9 L463.6 112.3" stroke="#bfc2c7" stroke-width="0.85" opacity="0.9"/><path d="M459.8 111.1 L462.2 113.4" stroke="#bfc2c7" stroke-width="0.85" opacity="0.9"/><path d="M458.5 112.2 L460.9 114.6" stroke="#bfc2c7" stroke-width="0.85" opacity="0.9"/><path d="M457.1 113.4 L459.6 115.7" stroke="#bfc2c7" stroke-width="0.85" opacity="0.9"/><path d="M455.8 114.5 L458.2 116.9" stroke="#bfc2c7" stroke-width="0.85" opacity="0.9"/><polygon points="450.0,80.4 471.4,101.0 454.8,115.4 434.8,97.0" fill="url(#chipBody)"/><polygon points="450.0,80.4 471.4,101.0 454.8,115.4 434.8,97.0" fill="none" stroke="#26272b" stroke-width="0.6"/><g fill="#4a4b51" opacity="0.8"><polygon points="449.5,89.7 459.0,98.7 457.8,99.9 448.3,90.9"/><polygon points="446.8,93.4 455.2,101.4 454.2,102.4 445.8,94.4"/></g><g transform="translate(0.2 0.9)"><polygon points="475.6,106.6 485.6,116.6 474.0,126.4 463.8,117.6" fill="#1b1b20" stroke="#d8dade" stroke-width="0.6"/><path d="M474.4 109.4 Q475.6 108.4 476.8 109.5 L482.8 115.6 Q483.8 116.8 482.6 117.9 L475.2 124.0 Q474.0 125.0 472.8 123.9 L466.6 118.3 Q465.5 117.2 466.7 116 Z" fill="#bfa061"/><path d="M474.7 109.5 Q475.6 108.8 476.6 109.7 L482.6 115.6 Q483.3 116.5 482.4 117.4 L475.8 123.1 Q474.9 123.8 474.0 123.0 L467.4 117.3 Q466.6 116.5 467.5 115.6 Z" fill="url(#xtal)"/></g><polyline points="421.6,117.6 425.0,114.6 428.2,117.4" fill="none" stroke="#e6e8ec" stroke-width="0.9"/><polyline points="414.6,125.0 411.2,128.2 414.0,131.6" fill="none" stroke="#e6e8ec" stroke-width="0.9"/><polyline points="436.4,131.6 439.6,134.6 436.6,137.8" fill="none" stroke="#e6e8ec" stroke-width="0.9"/><polygon points="426.2,119.6 437.4,132.6 424.0,142.6 414.2,129.0" fill="#d9c7bf"/><polygon points="424.0,142.6 437.4,132.6 437.2,134.4 424.2,144.2" fill="#b9a69d"/><polygon points="414.2,129.0 424.0,142.6 424.2,144.2 414.0,130.6" fill="#a79389"/><ellipse cx="426.3" cy="130.3" rx="6.4" ry="5.9" fill="#8d7a72" transform="rotate(-20 426.3 130.3)"/><ellipse cx="426.2" cy="130.0" rx="5.9" ry="5.4" fill="#eee3de" transform="rotate(-20 426.2 130)"/><ellipse cx="426.2" cy="130.1" rx="4.1" ry="3.7" fill="#a38f87" transform="rotate(-20 426.2 130.1)"/><ellipse cx="426.2" cy="130.2" rx="3.2" ry="2.9" fill="#e6d6cd" transform="rotate(-20 426.2 130.2)"/><circle cx="426.1" cy="130.4" r="1.25" fill="#c48f3c"/><g transform="translate(441.6 120.6) rotate(44)"><rect x="-2.1" y="-1.1" width="4.2" height="2.2" fill="#d5d8dc"/><rect x="-1.05" y="-1.1" width="2.1" height="2.2" fill="#6a5a47"/></g><g transform="translate(445.6 116.6) rotate(44)"><rect x="-1.8" y="-1.0" width="3.6" height="2.0" fill="#d5d8dc"/><rect x="-0.9" y="-1.0" width="1.8" height="2.0" fill="#7b6a52"/></g><g transform="translate(446.2 65.4) rotate(-46)"><rect x="-1.9" y="-1.0" width="3.8" height="2.0" fill="#d5d8dc"/><rect x="-0.95" y="-1.0" width="1.9" height="2.0" fill="#55504a"/></g><g transform="translate(469.6 77.6) rotate(46)"><rect x="-2.2" y="-1.1" width="4.4" height="2.2" fill="#d5d8dc"/><rect x="-1.1" y="-1.1" width="2.2" height="2.2" fill="#4c4a48"/></g><g transform="translate(484.0 107.6) rotate(46)"><rect x="-1.9" y="-1.0" width="3.8" height="2.0" fill="#d5d8dc"/><rect x="-0.95" y="-1.0" width="1.9" height="2.0" fill="#3c3c40"/></g><g transform="translate(452.6 71.0) rotate(-46)"><rect x="-1.7" y="-0.95" width="3.4" height="1.9" fill="#d5d8dc"/><rect x="-0.85" y="-0.95" width="1.7" height="1.9" fill="#504c48"/></g><g transform="translate(459.6 63.8) rotate(40)"><rect x="-1.7" y="-0.95" width="3.4" height="1.9" fill="#d5d8dc"/><rect x="-0.85" y="-0.95" width="1.7" height="1.9" fill="#5a564f"/></g><polygon points="421.0,144.0 440.3,164.2 436.3,168.2 417.0,147.9" fill="none" stroke="#c3c6cd" stroke-width="0.5" opacity="0.75"/><polygon points="430.0,144.5 440.9,155.9 436.5,160.2 425.6,148.9" fill="none" stroke="#c3c6cd" stroke-width="0.5" opacity="0.75"/><polygon points="439.1,145.1 449.9,156.4 445.5,160.7 434.7,149.4" fill="none" stroke="#c3c6cd" stroke-width="0.5" opacity="0.75"/><circle cx="420.9" cy="148.0" r="0.75" fill="#e2e5e9" opacity="0.9"/><circle cx="424.8" cy="152.0" r="0.75" fill="#e2e5e9" opacity="0.9"/><circle cx="428.7" cy="156.1" r="0.75" fill="#e2e5e9" opacity="0.9"/><circle cx="432.5" cy="160.1" r="0.75" fill="#e2e5e9" opacity="0.9"/><circle cx="436.4" cy="164.2" r="0.75" fill="#e2e5e9" opacity="0.9"/><circle cx="430.2" cy="149.1" r="0.75" fill="#e2e5e9" opacity="0.9"/><circle cx="434.0" cy="153.2" r="0.75" fill="#e2e5e9" opacity="0.9"/><circle cx="437.1" cy="156.4" r="0.75" fill="#e2e5e9" opacity="0.9"/><circle cx="439.2" cy="149.7" r="0.75" fill="#e2e5e9" opacity="0.9"/><circle cx="442.7" cy="153.3" r="0.75" fill="#e2e5e9" opacity="0.9"/><circle cx="446.2" cy="157.0" r="0.75" fill="#e2e5e9" opacity="0.9"/><circle cx="441.9" cy="161.9" r="0.75" fill="#e2e5e9" opacity="0.9"/><circle cx="447.8" cy="162.4" r="0.75" fill="#e2e5e9" opacity="0.9"/><circle cx="453.4" cy="158.5" r="0.75" fill="#e2e5e9" opacity="0.9"/><g transform="translate(463.0 140.4) rotate(-46)"><rect x="-2.2" y="-1.15" width="4.4" height="2.3" fill="#d5d8dc"/><rect x="-1.1" y="-1.15" width="2.2" height="2.3" fill="#dfe1e4"/></g><g transform="translate(471.0 136.6) rotate(-46)"><rect x="-1.8" y="-1.0" width="3.6" height="2.0" fill="#d5d8dc"/><rect x="-0.9" y="-1.0" width="1.8" height="2.0" fill="#2a2a2e"/></g><g transform="translate(465.6 128.8) rotate(44)"><rect x="-1.6" y="-0.9" width="3.2" height="1.8" fill="#d5d8dc"/><rect x="-0.8" y="-0.9" width="1.6" height="1.8" fill="#3a3a3e"/></g><g transform="translate(449.4 138.2) rotate(-46)"><rect x="-2.3" y="-1.2" width="4.6" height="2.4" fill="#d5d8dc"/><rect x="-1.15" y="-1.2" width="2.3" height="2.4" fill="#8a8d92"/></g><g transform="translate(470.0 130.4) rotate(-50)"><rect x="-2.4" y="-1.0" width="4.8" height="2.0" fill="#d5d8dc"/><rect x="-1.2" y="-1.0" width="2.4" height="2.0" fill="#c9ccd0"/></g><circle cx="455.6" cy="129.2" r="0.9" fill="#dfe2e6" opacity="0.9"/><circle cx="458.2" cy="131.8" r="0.8" fill="#dfe2e6" opacity="0.9"/><circle cx="461.0" cy="128.6" r="0.9" fill="#dfe2e6" opacity="0.9"/><circle cx="457.6" cy="134.4" r="0.7" fill="#dfe2e6" opacity="0.9"/><circle cx="462.4" cy="132.6" r="0.8" fill="#dfe2e6" opacity="0.9"/><circle cx="466.4" cy="134.8" r="0.7" fill="#dfe2e6" opacity="0.9"/><path d="M454.2 127.2 q2.2 -2.6 4.4 -0.4 M459.6 133.6 l3.2 -3 M463.4 136.6 l2.4 2.4 M453 133 l2 2.2" fill="none" stroke="#d4d7dc" stroke-width="0.7"/><polygon points="410.6,163.6 428.8,180.6 419.4,190.0 402.6,172.4" fill="#1c1c23" stroke="#e6e8ec" stroke-width="0.8"/><polygon points="411.2,167.2 413.0,168.8 408.2,174.2 406.4,172.6" fill="#eceef1"/><polygon points="414.8,169.8 417.8,172.6 412.8,178.0 409.8,175.2" fill="#eceef1"/><polygon points="424.4,180.6 426.0,182.2 421.2,186.8 419.6,185.2" fill="#e2e4e8"/><circle cx="408.4" cy="161.9" r="1.0" fill="#f2f3f5"/><path d="M415 156 L420 160.6 L446 135.6" fill="none" stroke="#0f0f13" stroke-width="0.8" opacity="0.8"/></g></g>
<ellipse cx="781" cy="208.5" rx="50" ry="14.5" fill="url(#sbShadow)"/>
<path d="M746.3 127.2 Q746.3 123.6 749.5 122.6 L760.6 134 L760.9 212.4 L748.2 201.8 Q746.5 200.6 746.5 198.7 Z" fill="url(#sbSide)"/><path d="M746.3 127.2 Q746.3 123.6 749.5 122.6 L760.6 134 L760.9 212.4 L748.2 201.8 Q746.5 200.6 746.5 198.7 Z" fill="url(#sbSideX)"/>
<path d="M746.6 199.6 L760.8 211.6" stroke="#1e1e1e" stroke-width="1.1" fill="none"/>
<path d="M746.3 129.6 L759.6 139.0" stroke="#414141" stroke-width="0.9" fill="none"/>
<path d="M746.3 130.6 L759.6 140.0" stroke="#b4b4b4" stroke-width="0.6" fill="none" opacity="0.5"/>
<path d="M746.3 144.8 L759.6 154.4" stroke="#414141" stroke-width="0.9" fill="none"/>
<path d="M746.3 145.8 L759.6 155.4" stroke="#b4b4b4" stroke-width="0.6" fill="none" opacity="0.5"/>
<path d="M746.3 160.0 L759.6 169.6" stroke="#414141" stroke-width="0.9" fill="none"/>
<path d="M746.3 161.0 L759.6 170.6" stroke="#b4b4b4" stroke-width="0.6" fill="none" opacity="0.5"/>
<path d="M746.3 175.4 L759.6 185.2" stroke="#414141" stroke-width="0.9" fill="none"/>
<path d="M746.3 176.4 L759.6 186.2" stroke="#b4b4b4" stroke-width="0.6" fill="none" opacity="0.5"/>
<path d="M746.3 126.8 Q746.4 122.9 750.6 121.8 L773.4 117.7 Q777.2 117.1 779.8 119.3 L791.2 127.5 Q792.8 129.0 790.4 129.7 L764.5 134.2 Q761.2 134.9 760.4 137.3 L746.3 128.2 Z" fill="url(#sbTop)"/>
<path d="M759.4 138.4 Q759.6 134.6 763.6 133.7 L789.4 129.0 Q792.7 128.5 792.7 131.7 L792.7 205.0 Q792.7 206.4 791.1 206.8 L762.8 212.6 Q759.6 213.1 759.6 210.1 Z" fill="#333334"/>
<path d="M762.4 140.2 Q762.5 136.6 765.8 135.8 L789.0 131.4 Q791.6 131.0 791.6 133.6 L791.6 202.6 Q791.6 203.8 790.2 204.1 L764.8 209.4 Q762.4 209.8 762.4 207.4 Z" fill="url(#sbFront)"/>
<g transform="translate(0 0)"><ellipse cx="169.5" cy="421.4" rx="29" ry="5.2" fill="url(#phShadow)"/><path d="M181 359.6 Q184.0 359.8 184.4 362 L190.5 416.8 Q190.8 420 187.6 420.3 L184 420.4 Z" fill="url(#phSide)"/><path d="M184.9 371.9 l0.5 3.2" stroke="#8ea6bb" stroke-width="1.1" fill="none"/><path d="M185.6 378.4 l0.5 3.2" stroke="#8ea6bb" stroke-width="1.1" fill="none"/><path d="M186.3 385.0 l0.5 3.2" stroke="#8ea6bb" stroke-width="1.1" fill="none"/><path d="M187.0 391.6 l0.5 3.2" stroke="#8ea6bb" stroke-width="1.1" fill="none"/><path d="M187.8 398.2 l0.5 3.2" stroke="#8ea6bb" stroke-width="1.1" fill="none"/><path d="M143.4 359.2 L181.6 359.2 Q183.6 359.3 183.9 361.4 L189.2 417.6 Q189.4 420.5 186.6 420.5 L151.4 420.6 Q148.5 420.6 148.1 417.8 L141.4 361.6 Q141.2 359.2 143.4 359.2 Z" fill="url(#phBody)" stroke="#d3d9df" stroke-width="0.5"/><path d="M143.0 365.2 L179.6 365.2 L185.2 414.9 L149.7 414.9 Z" fill="#0b0b0b"/><path d="M144.6 366.5 L178.6 366.5 L183.7 413.6 L150.7 413.6 Z" fill="url(#phScr)"/><rect x="157.4" y="363.5" width="7.8" height="1.0" rx="0.4" fill="#b4b4b4"/><path d="M165.2 418.2 Q167 416.2 168.8 418.2" fill="none" stroke="#e8eef3" stroke-width="0.7"/></g>
<g transform="translate(98.4 0)"><ellipse cx="169.5" cy="421.4" rx="29" ry="5.2" fill="url(#phShadow)"/><path d="M181 359.6 Q184.0 359.8 184.4 362 L190.5 416.8 Q190.8 420 187.6 420.3 L184 420.4 Z" fill="url(#phSide)"/><path d="M184.9 371.9 l0.5 3.2" stroke="#8ea6bb" stroke-width="1.1" fill="none"/><path d="M185.6 378.4 l0.5 3.2" stroke="#8ea6bb" stroke-width="1.1" fill="none"/><path d="M186.3 385.0 l0.5 3.2" stroke="#8ea6bb" stroke-width="1.1" fill="none"/><path d="M187.0 391.6 l0.5 3.2" stroke="#8ea6bb" stroke-width="1.1" fill="none"/><path d="M187.8 398.2 l0.5 3.2" stroke="#8ea6bb" stroke-width="1.1" fill="none"/><path d="M143.4 359.2 L181.6 359.2 Q183.6 359.3 183.9 361.4 L189.2 417.6 Q189.4 420.5 186.6 420.5 L151.4 420.6 Q148.5 420.6 148.1 417.8 L141.4 361.6 Q141.2 359.2 143.4 359.2 Z" fill="url(#phBody)" stroke="#d3d9df" stroke-width="0.5"/><path d="M143.0 365.2 L179.6 365.2 L185.2 414.9 L149.7 414.9 Z" fill="#0b0b0b"/><path d="M144.6 366.5 L178.6 366.5 L183.7 413.6 L150.7 413.6 Z" fill="url(#phScr)"/><rect x="157.4" y="363.5" width="7.8" height="1.0" rx="0.4" fill="#b4b4b4"/><path d="M165.2 418.2 Q167 416.2 168.8 418.2" fill="none" stroke="#e8eef3" stroke-width="0.7"/></g>
<ellipse cx="423.5" cy="440.5" rx="66" ry="4.5" fill="url(#lpShadow)"/>
<path d="M369.6 334.9 L477.6 334.9 Q480.9 334.9 480.9 338.2 L480.3 400 Q480.2 402.8 477.4 402.8 L369.6 402.8 Q366.8 402.8 366.7 400 L366.2 338.2 Q366.2 334.9 369.6 334.9 Z" fill="url(#lpLid)" stroke="#d9dce0" stroke-width="0.5"/>
<path d="M370.4 337 L476.8 337 Q478.9 337 478.9 339.1 L477.1 389.6 Q477 391.5 475.1 391.5 L372.1 391.5 Q370.2 391.5 370.1 389.6 L368.3 339.1 Q368.3 337 370.4 337 Z" fill="url(#lpScr)" stroke="#0e0e0e" stroke-width="0.7"/>
<path d="M362.6 440.2 Q361.0 438.4 362.2 435.2 L484.8 435.2 Q486.0 438.4 484.4 440.2 Q482.6 441.2 480 441.2 L367 441.2 Q364.2 441.2 362.6 440.2 Z" fill="#16324f"/>
<path d="M362.2 436.6 L367.7 404.8 Q368 403.4 369.4 403.4 L479.8 403.4 Q481.2 403.4 481.5 404.8 L484.8 436.6 Q484.9 438.2 482.6 438.2 L364.4 438.2 Q362 438.2 362.2 436.6 Z" fill="url(#lpBase)"/>
<rect x="381.5" y="401.4" width="7.2" height="2.4" rx="0.6" fill="#1d7fd3"/>
<rect x="454.8" y="401.4" width="7.2" height="2.4" rx="0.6" fill="#1d7fd3"/>
<path d="M376.2 408.9 L397 408.9 L397 422.9 L385.6 422.9 L385.6 419 L376.2 419 Z" fill="#161616"/><path d="M398.8 408.9 L465.2 408.9 L465.2 410.6 L468.6 410.6 L468.6 408.9 L473.1 408.9 L473.1 421.8 L402.2 421.8 L402.2 423 L397 423 L397 419.6 L398.8 419.6 Z" fill="#151515"/><path d="M379.3 409 V419" stroke="#555" stroke-width="0.5"/><path d="M382.4 409 V419" stroke="#555" stroke-width="0.5"/><path d="M385.5 409 V419" stroke="#555" stroke-width="0.5"/><path d="M388.6 409 V419" stroke="#555" stroke-width="0.5"/><path d="M391.7 409 V419" stroke="#555" stroke-width="0.5"/><path d="M394.4 409 V419" stroke="#555" stroke-width="0.5"/><path d="M399 411.2 H473" stroke="#4a4a4a" stroke-width="0.45"/><path d="M399 414.0 H473" stroke="#4a4a4a" stroke-width="0.45"/><path d="M399 416.6 H473" stroke="#4a4a4a" stroke-width="0.45"/><path d="M399 419.2 H473" stroke="#4a4a4a" stroke-width="0.45"/><path d="M401.5 411.2 V421.6" stroke="#4a4a4a" stroke-width="0.4"/><path d="M404.6 411.2 V421.6" stroke="#4a4a4a" stroke-width="0.4"/><path d="M407.7 411.2 V421.6" stroke="#4a4a4a" stroke-width="0.4"/><path d="M410.8 411.2 V421.6" stroke="#4a4a4a" stroke-width="0.4"/><path d="M413.9 411.2 V421.6" stroke="#4a4a4a" stroke-width="0.4"/><path d="M417.0 411.2 V421.6" stroke="#4a4a4a" stroke-width="0.4"/><path d="M420.1 411.2 V421.6" stroke="#4a4a4a" stroke-width="0.4"/><path d="M423.2 411.2 V421.6" stroke="#4a4a4a" stroke-width="0.4"/><path d="M426.3 411.2 V421.6" stroke="#4a4a4a" stroke-width="0.4"/><path d="M429.4 411.2 V421.6" stroke="#4a4a4a" stroke-width="0.4"/><path d="M432.5 411.2 V421.6" stroke="#4a4a4a" stroke-width="0.4"/><path d="M435.6 411.2 V421.6" stroke="#4a4a4a" stroke-width="0.4"/><path d="M438.7 411.2 V421.6" stroke="#4a4a4a" stroke-width="0.4"/><path d="M441.8 411.2 V421.6" stroke="#4a4a4a" stroke-width="0.4"/><path d="M444.9 411.2 V421.6" stroke="#4a4a4a" stroke-width="0.4"/><path d="M448.0 411.2 V421.6" stroke="#4a4a4a" stroke-width="0.4"/><path d="M451.1 411.2 V421.6" stroke="#4a4a4a" stroke-width="0.4"/><path d="M454.2 411.2 V421.6" stroke="#4a4a4a" stroke-width="0.4"/><path d="M457.3 411.2 V421.6" stroke="#4a4a4a" stroke-width="0.4"/><path d="M460.4 411.2 V421.6" stroke="#4a4a4a" stroke-width="0.4"/><path d="M463.5 411.2 V421.6" stroke="#4a4a4a" stroke-width="0.4"/><path d="M466.6 411.2 V421.6" stroke="#4a4a4a" stroke-width="0.4"/><path d="M469.7 411.2 V421.6" stroke="#4a4a4a" stroke-width="0.4"/><path d="M472.8 411.2 V421.6" stroke="#4a4a4a" stroke-width="0.4"/><path d="M399 410.9 H465.2" stroke="#8c8c8c" stroke-width="0.6"/>
<rect x="383.2" y="425.6" width="36.8" height="8.9" fill="#9b9b9b"/><rect x="383.2" y="425.6" width="36.8" height="0.8" fill="#858585"/>
<ellipse cx="576" cy="419.8" rx="52" ry="6.2" fill="url(#tbShadow)"/>
<path d="M542.6 360.4 L616.4 361.5 Q618.9 361.7 618.6 364 L613.4 413 Q613 415.6 610.4 415.6 L539.6 415.2 Q537.2 415.1 537.4 412.8 L540.2 362.6 Q540.4 360.4 542.6 360.4 Z" fill="url(#tbBody)" stroke="#cdd4da" stroke-width="0.6"/>
<path d="M543.0 365.3 L616.9 366.0 L611.6 409.6 L540.0 409.5 Z" fill="#0b0b0b"/>
<path d="M544.8 367.1 L615.1 367.8 L610.2 408.0 L541.9 407.9 Z" fill="url(#tbScr)"/>
<circle cx="574.6" cy="412.6" r="1.1" fill="none" stroke="#e6edf2" stroke-width="0.6"/>
<text x="582.5" y="172.7" text-anchor="middle" font-family="&quot;Liberation Sans&quot;, &quot;Noto Sans CJK SC&quot;, sans-serif" font-size="16.5" font-weight="500" fill="#e8631c" stroke="#f8f8f8" stroke-opacity="0.7" stroke-width="1.6" stroke-linejoin="round" paint-order="stroke">串口连接</text>
<text x="773.2" y="243.6" text-anchor="middle" font-family="&quot;Liberation Sans&quot;, &quot;Noto Sans CJK SC&quot;, sans-serif" font-size="16.5" font-weight="500" fill="#0e4097" stroke="#f8f8f8" stroke-opacity="0.7" stroke-width="1.6" stroke-linejoin="round" paint-order="stroke">串口设备</text>
<text x="281" y="281.95" font-family="&quot;Liberation Sans&quot;, sans-serif" font-size="17" fill="#0e4097" stroke="#f8f8f8" stroke-opacity="0.7" stroke-width="1.6" stroke-linejoin="round" paint-order="stroke">WiFi</text>
<text x="205.4" y="453.8" text-anchor="middle" font-family="&quot;Liberation Sans&quot;, &quot;Noto Sans CJK SC&quot;, sans-serif" font-size="16.5" font-weight="500" fill="#0e4097" stroke="#f8f8f8" stroke-opacity="0.7" stroke-width="1.6" stroke-linejoin="round" paint-order="stroke">手机（IOS/Android/Win系统）</text>
<text x="423.8" y="474" text-anchor="middle" font-family="&quot;Liberation Sans&quot;, &quot;Noto Sans CJK SC&quot;, sans-serif" font-size="16.7" font-weight="500" fill="#0e4097" stroke="#f8f8f8" stroke-opacity="0.7" stroke-width="1.6" stroke-linejoin="round" paint-order="stroke">笔记本电脑</text>
<text x="573" y="451.6" text-anchor="middle" font-family="&quot;Liberation Sans&quot;, &quot;Noto Sans CJK SC&quot;, sans-serif" font-size="16.6" font-weight="500" fill="#0e4097" stroke="#f8f8f8" stroke-opacity="0.7" stroke-width="1.6" stroke-linejoin="round" paint-order="stroke">平板电脑</text>
</svg>
<div class="sr">WiFi 串口连接 串口设备 手机（IOS/Android/Win系统） 笔记本电脑 平板电脑</div>
</body>
</html>
